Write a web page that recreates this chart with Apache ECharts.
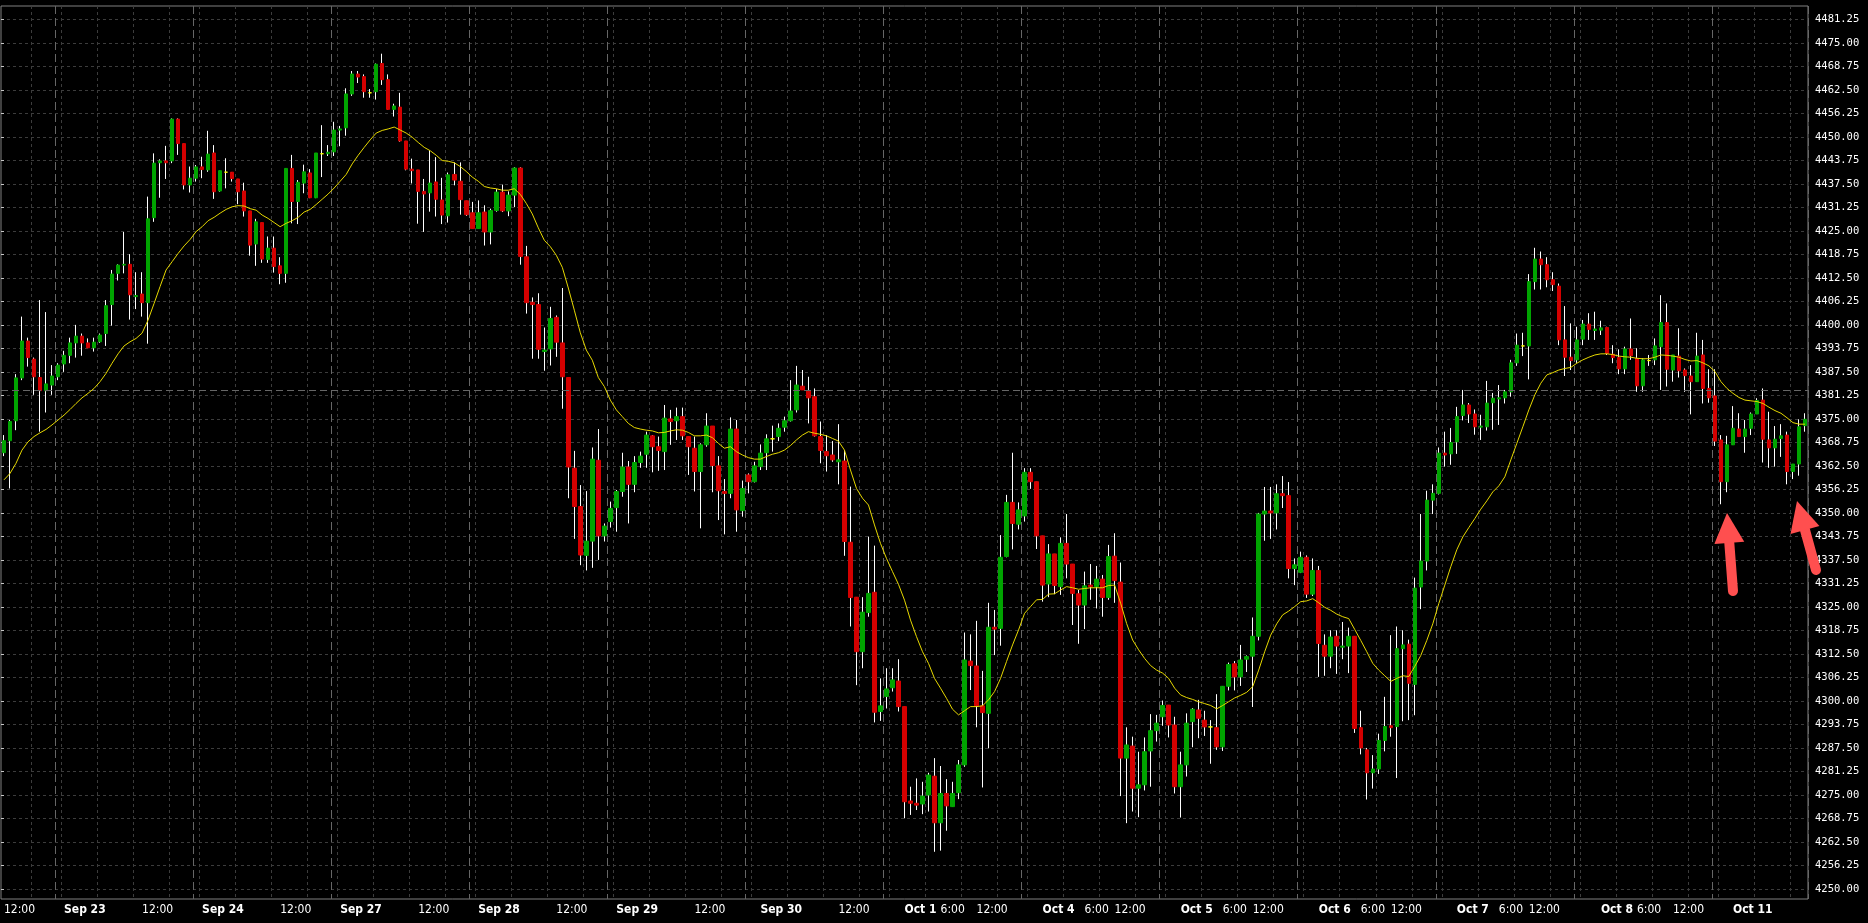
<!DOCTYPE html>
<html><head><meta charset="utf-8">
<script src="https://cdn.jsdelivr.net/npm/echarts@6/dist/echarts.min.js"></script>
<style>html,body{margin:0;padding:0;background:#000;}#c{width:1868px;height:923px;}</style>
</head><body><div id="c"></div>
<script>
// ---- hourly bars (index 0..300) ----
const open = [
4366.0,4369.2,4374.5,4385.9,4395.7,4390.9,4386.0,4382.5,4384.0,4386.2,
4389.6,4391.9,4395.2,4397.0,4395.2,4393.9,4395.5,4397.7,4405.4,4413.7,
4415.9,4416.1,4407.5,4408.2,4405.9,4428.5,4443.1,4443.6,4443.6,4454.7,
4448.2,4437.2,4439.0,4442.0,4441.2,4445.7,4435.6,4440.6,4440.6,4438.8,
4435.6,4430.3,4421.5,4427.2,4417.4,4420.4,4415.7,4413.7,4441.6,4432.8,
4437.7,4440.4,4433.8,4445.5,4445.5,4446.0,4451.8,4452.4,4461.4,4466.7,
4466.0,4461.7,4462.0,4469.5,4465.2,4457.3,4457.9,4448.9,4441.4,4441.2,
4435.5,4435.1,4438.0,4433.2,4429.0,4440.0,4438.2,4433.0,4429.8,4425.6,
4430.0,4424.7,4430.4,4435.3,4430.3,4434.5,4441.7,4418.1,4406.0,4405.4,
4392.9,4393.6,4402.0,4395.2,4386.0,4361.9,4351.7,4338.7,4342.5,4364.0,
4343.9,4347.7,4351.4,4355.7,4362.2,4357.6,4363.4,4365.6,4370.5,4367.6,
4366.3,4375.0,4374.5,4375.6,4370.3,4367.2,4361.0,4368.1,4373.1,4362.5,
4355.7,4355.2,4372.3,4350.6,4360.1,4358.3,4362.3,4366.0,4369.7,4370.3,
4372.8,4374.5,4377.4,4383.7,4382.4,4380.9,4370.3,4366.3,4365.4,4363.6,
4363.8,4342.2,4327.6,4313.1,4323.5,4328.9,4297.2,4301.2,4303.5,4305.3,
4298.5,4273.4,4272.8,4272.6,4275.0,4280.0,4267.6,4275.4,4271.9,4275.6,
4283.0,4310.6,4309.3,4298.7,4296.7,4319.6,4319.3,4338.4,4352.8,4347.0,
4349.2,4360.8,4358.3,4343.9,4331.1,4339.1,4330.4,4341.9,4336.4,4328.5,
4325.5,4330.8,4330.4,4332.4,4327.5,4338.5,4331.6,4284.8,4288.0,4276.8,
4277.7,4286.7,4292.1,4295.8,4298.9,4293.6,4277.2,4283.0,4294.5,4297.6,
4294.9,4293.1,4292.9,4287.8,4303.9,4309.9,4306.4,4311.1,4311.9,4317.2,
4349.7,4350.5,4350.0,4355.1,4354.6,4335.2,4334.2,4338.2,4328.4,4334.7,
4314.8,4311.9,4317.2,4314.3,4314.6,4317.2,4292.9,4287.0,4280.9,4281.9,
4289.5,4293.4,4293.2,4313.9,4315.1,4304.4,4330.3,4337.2,4353.4,4355.2,
4365.9,4365.7,4368.9,4375.9,4378.7,4376.3,4372.8,4372.9,4379.3,4380.3,
4380.6,4382.2,4389.9,4394.4,4394.4,4411.5,4417.5,4416.0,4412.0,4410.3,
4396.0,4391.4,4390.7,4396.2,4400.2,4398.5,4398.6,4399.3,4392.2,4391.3,
4388.3,4393.6,4391.1,4383.8,4390.5,4390.7,4394.2,4400.6,4388.0,4391.7,
4388.0,4386.4,4384.9,4392.0,4383.1,4381.1,4369.4,4358.3,4368.1,4372.3,
4370.3,4372.5,4376.3,4380.0,4369.4,4367.3,4369.8,4370.7,4361.0,4363.0,
4373.2];
const high = [
4370.7,4374.7,4386.9,4402.2,4396.6,4391.3,4406.6,4403.4,4389.3,4389.8,
4393.1,4396.6,4400.0,4397.7,4396.4,4396.6,4397.7,4406.6,4414.6,4416.1,
4424.7,4418.8,4414.0,4414.0,4434.1,4445.6,4444.0,4447.6,4454.9,4454.9,
4448.2,4442.1,4442.5,4444.7,4451.6,4447.8,4441.0,4444.3,4440.6,4438.8,
4437.8,4430.3,4428.2,4427.2,4423.5,4423.5,4418.0,4441.6,4445.2,4438.5,
4442.6,4441.4,4445.7,4453.1,4447.8,4454.0,4452.9,4462.9,4467.5,4467.5,
4466.6,4462.7,4469.5,4472.1,4466.6,4458.8,4461.7,4448.9,4444.2,4441.2,
4438.8,4446.4,4444.6,4439.1,4440.5,4443.2,4443.2,4433.0,4432.7,4433.1,
4431.8,4430.9,4436.1,4437.3,4435.5,4441.9,4441.9,4421.0,4407.3,4408.4,
4399.3,4404.8,4402.5,4409.8,4386.0,4366.5,4357.4,4355.8,4367.4,4372.3,
4347.2,4353.0,4356.1,4366.0,4363.8,4365.1,4366.3,4371.6,4370.7,4370.3,
4378.7,4377.4,4378.0,4378.0,4370.3,4370.3,4368.5,4376.5,4373.1,4365.1,
4359.0,4375.4,4374.7,4358.6,4360.5,4363.6,4368.2,4370.9,4373.2,4373.8,
4375.6,4385.3,4389.1,4388.0,4386.2,4383.1,4374.3,4370.7,4369.1,4373.6,
4366.7,4357.0,4327.6,4327.6,4343.7,4341.3,4306.0,4308.7,4308.7,4311.1,
4298.5,4277.2,4279.4,4278.5,4280.9,4284.8,4282.7,4279.2,4278.5,4284.3,
4318.2,4317.7,4321.3,4308.0,4326.1,4324.2,4344.1,4354.8,4366.0,4352.8,
4361.9,4361.9,4358.3,4343.9,4341.7,4339.1,4343.5,4349.7,4336.4,4329.5,
4334.4,4336.4,4335.9,4333.5,4341.5,4344.6,4336.8,4293.0,4290.5,4286.5,
4290.3,4296.5,4296.3,4300.1,4298.9,4295.8,4286.5,4296.7,4298.1,4300.3,
4297.4,4294.9,4301.8,4303.9,4310.2,4310.6,4314.9,4312.1,4322.2,4350.0,
4356.9,4356.9,4357.6,4359.8,4358.2,4337.9,4339.7,4338.7,4337.9,4335.9,
4317.7,4318.8,4318.8,4321.0,4319.5,4317.2,4297.4,4287.5,4285.6,4291.3,
4301.1,4317.5,4319.8,4318.8,4316.3,4332.8,4349.7,4355.9,4357.6,4367.4,
4371.6,4372.6,4378.2,4382.7,4379.2,4377.5,4376.1,4385.1,4381.9,4384.0,
4382.7,4390.7,4397.7,4397.9,4413.5,4420.5,4419.5,4418.0,4414.0,4411.0,
4405.0,4400.4,4399.5,4401.3,4403.1,4403.5,4401.1,4399.5,4394.6,4393.5,
4394.2,4401.7,4393.8,4391.1,4392.0,4396.4,4407.9,4405.7,4392.0,4399.1,
4388.4,4389.3,4397.9,4396.0,4388.2,4388.2,4370.7,4370.5,4378.4,4376.5,
4374.7,4376.7,4380.5,4383.1,4376.9,4373.1,4373.6,4371.6,4363.0,4374.9,
4376.5];
const low = [
4365.1,4356.5,4372.0,4385.3,4388.9,4381.4,4371.6,4376.7,4381.4,4385.3,
4387.5,4389.8,4391.3,4391.8,4393.9,4392.9,4395.2,4394.4,4399.8,4411.8,
4413.7,4401.4,4404.2,4402.2,4395.0,4427.4,4433.8,4438.8,4443.0,4445.2,
4436.0,4435.2,4438.1,4439.0,4440.7,4433.5,4435.4,4436.3,4438.1,4432.1,
4428.8,4418.4,4415.7,4416.5,4416.5,4413.9,4410.8,4411.2,4427.0,4426.8,
4435.0,4433.7,4433.7,4439.3,4444.9,4444.9,4447.5,4450.3,4460.9,4464.3,
4460.4,4460.4,4459.9,4463.8,4457.2,4455.4,4448.7,4441.1,4437.6,4426.9,
4424.7,4430.1,4428.8,4426.8,4427.2,4437.1,4429.3,4429.0,4425.6,4425.6,
4421.1,4421.4,4430.1,4430.0,4428.9,4431.3,4416.0,4403.0,4391.0,4391.0,
4387.8,4389.2,4391.5,4377.7,4353.9,4343.1,4336.1,4334.7,4335.4,4337.5,
4342.4,4346.1,4345.0,4354.3,4347.2,4355.5,4362.0,4362.0,4360.8,4361.2,
4361.4,4368.1,4369.4,4369.4,4360.1,4355.7,4345.9,4367.6,4355.5,4348.1,
4344.3,4353.9,4345.0,4349.0,4355.2,4358.1,4361.4,4361.4,4366.3,4369.1,
4371.6,4374.3,4376.7,4382.7,4373.8,4370.3,4363.2,4361.0,4363.6,4357.6,
4338.6,4319.8,4304.2,4308.7,4322.4,4294.3,4294.7,4298.0,4302.5,4297.2,
4268.8,4269.7,4271.0,4269.9,4270.6,4259.9,4260.2,4265.5,4271.9,4273.9,
4282.5,4302.9,4293.0,4277.0,4287.4,4312.2,4314.7,4338.2,4340.3,4345.6,
4347.7,4356.4,4340.4,4326.4,4327.6,4328.4,4328.2,4332.6,4320.2,4315.2,
4319.1,4326.9,4324.6,4322.4,4326.9,4326.1,4274.7,4267.5,4270.6,4269.1,
4276.2,4277.2,4289.2,4293.4,4290.3,4275.4,4269.0,4279.9,4287.7,4290.1,
4290.7,4283.3,4287.0,4286.7,4302.8,4302.8,4304.0,4307.7,4298.4,4316.1,
4342.6,4343.1,4345.6,4351.3,4332.6,4330.8,4334.0,4327.4,4327.9,4306.4,
4306.7,4308.7,4307.2,4311.1,4307.4,4291.5,4285.8,4273.8,4276.7,4280.6,
4286.6,4290.5,4279.5,4294.6,4294.9,4296.2,4324.4,4334.7,4349.7,4354.9,
4362.3,4362.8,4365.7,4374.6,4373.9,4370.8,4369.4,4371.9,4372.1,4373.4,
4379.1,4380.9,4389.1,4391.7,4385.5,4409.4,4409.4,4410.0,4409.0,4394.6,
4386.4,4388.0,4389.9,4394.6,4396.0,4396.0,4397.3,4392.0,4389.8,4386.9,
4386.9,4390.7,4382.2,4382.2,4389.1,4389.3,4382.7,4383.6,4384.9,4386.0,
4382.2,4376.2,4384.9,4379.1,4379.3,4367.8,4352.3,4355.5,4368.1,4370.3,
4366.0,4370.7,4376.3,4363.4,4362.0,4362.3,4364.9,4357.6,4359.0,4359.9,
4371.6];
const close = [
4369.2,4374.3,4385.9,4395.7,4391.3,4386.2,4382.5,4384.3,4386.4,4389.3,
4391.9,4395.2,4397.0,4395.2,4393.9,4395.4,4397.3,4405.1,4413.5,4415.9,
4416.1,4408.0,4407.8,4405.9,4428.2,4443.0,4443.6,4443.1,4454.7,4448.2,
4437.2,4439.0,4442.0,4441.3,4445.4,4435.4,4441.0,4440.6,4438.9,4435.4,
4430.3,4421.2,4427.4,4417.5,4420.4,4415.5,4413.7,4441.6,4432.8,4437.9,
4440.7,4433.8,4445.7,4445.5,4445.9,4451.8,4452.1,4461.4,4466.7,4465.9,
4462.0,4461.7,4469.3,4465.2,4457.3,4458.2,4448.9,4441.4,4441.0,4435.5,
4434.8,4437.7,4433.4,4429.2,4439.9,4438.5,4433.3,4429.3,4425.6,4429.8,
4424.7,4430.4,4435.3,4430.3,4434.5,4441.7,4418.2,4405.9,4405.4,4393.5,
4393.3,4401.7,4395.4,4386.2,4362.2,4351.7,4338.8,4342.5,4364.3,4343.9,
4346.5,4351.2,4355.7,4362.2,4357.6,4363.4,4365.1,4370.7,4367.6,4366.6,
4375.2,4374.3,4375.6,4370.5,4367.6,4361.0,4368.1,4373.1,4362.6,4355.9,
4355.2,4372.3,4350.8,4356.5,4358.3,4362.5,4365.9,4369.7,4369.7,4372.5,
4374.5,4377.1,4384.0,4382.7,4380.6,4370.5,4366.6,4365.2,4364.1,4364.1,
4342.4,4327.5,4313.1,4323.6,4328.6,4297.0,4298.7,4303.2,4305.6,4298.5,
4273.2,4272.8,4272.3,4274.7,4280.3,4267.6,4275.4,4272.1,4275.4,4283.0,
4310.9,4309.4,4298.7,4296.9,4319.6,4319.1,4338.2,4352.8,4347.2,4350.8,
4360.8,4358.3,4343.9,4330.8,4339.1,4330.7,4341.9,4336.4,4328.6,4325.5,
4330.6,4330.4,4332.4,4327.5,4338.4,4332.0,4284.8,4288.3,4276.8,4277.7,
4286.5,4292.1,4294.1,4298.8,4293.6,4277.2,4283.0,4294.1,4297.8,4295.4,
4293.1,4293.1,4287.8,4303.9,4309.7,4306.4,4310.9,4311.8,4317.2,4349.7,
4350.5,4350.0,4355.1,4354.6,4335.2,4336.2,4338.2,4328.4,4334.7,4315.3,
4311.9,4317.0,4314.6,4314.6,4317.2,4292.7,4287.5,4280.9,4281.9,4289.5,
4293.2,4292.9,4313.9,4314.9,4304.7,4330.0,4337.2,4353.4,4355.2,4365.9,
4365.4,4368.7,4375.6,4378.7,4376.3,4372.9,4373.1,4379.2,4380.5,4380.6,
4382.2,4389.9,4394.6,4394.4,4411.5,4417.5,4416.0,4412.0,4410.7,4396.0,
4391.4,4390.5,4396.0,4400.2,4398.8,4398.9,4399.2,4392.4,4391.3,4388.3,
4393.6,4391.8,4383.8,4390.7,4390.5,4394.4,4400.6,4388.2,4392.0,4387.8,
4386.5,4384.9,4391.7,4383.1,4380.6,4369.1,4358.3,4368.1,4372.5,4370.3,
4372.3,4376.3,4379.9,4369.6,4367.3,4369.6,4370.5,4361.0,4363.0,4372.9,
4374.9];
// moving average (yellow line), read per bar
const ma = [
4358.8,4360.5,4363.2,4366.7,4368.9,4370.3,4371.3,4372.2,4373.4,4374.7,
4376.0,4377.5,4379.1,4380.6,4381.8,4383.1,4384.9,4387.1,4389.8,4392.3,
4394.4,4395.5,4396.4,4397.8,4401.3,4405.7,4410.2,4414.6,4416.8,4419.0,
4421.0,4422.7,4424.8,4426.1,4427.7,4428.6,4429.7,4430.7,4431.4,4431.7,
4431.6,4430.9,4430.5,4429.2,4428.3,4427.2,4426.1,4427.0,4427.7,4428.6,
4430.0,4430.7,4432.0,4433.4,4434.8,4436.4,4438.2,4440.0,4442.8,4445.1,
4447.2,4449.2,4451.0,4451.7,4452.1,4452.6,4451.8,4451.0,4449.9,4448.5,
4447.2,4446.3,4445.1,4443.7,4443.5,4443.1,4442.1,4440.8,4439.3,4438.2,
4436.8,4436.4,4436.2,4435.8,4435.8,4436.2,4434.7,4432.3,4429.5,4425.8,
4422.5,4420.8,4418.5,4415.3,4409.8,4403.9,4397.9,4393.3,4390.6,4386.0,
4383.6,4380.0,4377.4,4375.6,4373.8,4372.7,4372.3,4372.0,4371.8,4371.3,
4371.4,4371.8,4372.1,4372.0,4371.4,4370.5,4370.5,4370.7,4370.0,4368.5,
4367.2,4367.6,4366.3,4365.4,4364.7,4364.3,4364.3,4365.0,4365.6,4366.0,
4366.7,4367.9,4369.4,4370.7,4371.6,4371.2,4370.9,4370.5,4369.8,4369.1,
4366.7,4361.4,4356.5,4353.9,4352.1,4346.8,4341.9,4337.9,4334.4,4331.0,
4326.8,4321.5,4317.1,4313.1,4310.0,4306.0,4303.4,4300.7,4297.8,4296.3,
4297.4,4298.5,4298.5,4298.7,4300.3,4302.5,4306.0,4310.5,4314.9,4318.9,
4323.3,4325.1,4326.9,4327.0,4328.4,4328.5,4329.5,4330.4,4330.1,4329.7,
4329.9,4330.1,4330.1,4330.1,4330.7,4330.8,4326.0,4320.6,4316.2,4313.6,
4311.3,4309.4,4308.2,4307.4,4306.0,4303.4,4301.6,4300.9,4300.4,4299.8,
4299.3,4298.8,4297.9,4298.8,4299.8,4300.8,4301.5,4302.3,4303.8,4308.2,
4313.1,4317.5,4320.5,4322.9,4323.9,4325.1,4326.4,4326.6,4327.2,4326.1,
4324.9,4324.1,4323.1,4322.4,4321.9,4319.0,4316.1,4313.1,4310.0,4308.2,
4306.7,4305.2,4306.0,4306.7,4306.5,4309.2,4312.1,4316.1,4320.5,4325.9,
4330.8,4335.7,4340.2,4343.6,4346.1,4348.5,4351.0,4353.2,4355.6,4357.2,
4359.6,4364.1,4368.5,4372.9,4377.4,4381.4,4384.5,4386.7,4387.3,4388.0,
4388.4,4388.7,4389.8,4390.7,4391.4,4392.0,4392.3,4392.3,4392.1,4391.7,
4391.5,4391.4,4391.1,4391.0,4391.0,4391.4,4392.0,4391.9,4391.7,4391.4,
4390.8,4390.4,4390.5,4389.9,4389.1,4387.6,4384.9,4383.1,4381.8,4380.7,
4380.0,4379.8,4379.6,4379.1,4378.1,4377.2,4376.5,4375.3,4374.0,4373.6,
4373.6];

// ---- time scale labels (bar index where each label starts) ----
const xLabelIdx  = [0,10,23,33,46,56,69,79,92,102,115,126,139,150,156,162,173,180,185,196,203,208,219,226,231,242,249,254,266,272,278,288];
const xLabelText = ['12:00','Sep 23','12:00','Sep 24','12:00','Sep 27','12:00','Sep 28','12:00','Sep 29','12:00','Sep 30','12:00','Oct 1','6:00','12:00','Oct 4','6:00','12:00','Oct 5','6:00','12:00','Oct 6','6:00','12:00','Oct 7','6:00','12:00','Oct 8','6:00','12:00','Oct 11'];
// first bar of each trading day (dashed period separators)
const daySepIdx = [9,32,55,78,101,124,147,170,193,216,239,262,285];
// 6-hour grid lines (bar index at whose left edge the dotted line sits)
const hourGridIdx = [5,10,16,22,28,33,39,45,51,56,62,68,74,79,85,91,97,102,108,114,120,125,131,137,143,148,154,160,166,171,177,183,189,194,200,206,212,217,223,229,235,240,246,252,258,263,269,275,281,286,292,298];
// price scale
const yTickMin = 4250, yTickMax = 4481.25, yTickStep = 6.25;
const hLinePrice = 4382.5;

// ---- layout ----
const plotTop = 6, plotBottomPx = 899, tickTopPx = 19.3, tickBottomPx = 889, H = 923;
const pxPerUnit = (tickBottomPx - tickTopPx) / (yTickMax - yTickMin);
const dataMin = yTickMin - (plotBottomPx - tickBottomPx) / pxPerUnit;
const dataMax = yTickMax + (tickTopPx - plotTop) / pxPerUnit;

const GREEN = '#00a400', RED = '#d40000', DOJI = '#ffff00', WICK = '#ffffff';
const XFONT = '"DejaVu Sans Condensed", "DejaVu Sans", sans-serif';
const cats = open.map((_, i) => String(i));
const labelMap = {}; xLabelIdx.forEach((k, j) => labelMap[k] = xLabelText[j]);
const sepSet = new Set(daySepIdx), gridSet = new Set(hourGridIdx);

const wickData = open.map((o, i) => [o, close[i], low[i], high[i]]);
const bodyData = open.map((o, i) => {
  const c = close[i];
  const v = [o, c, Math.min(o, c), Math.max(o, c)];
  if (o === c) return { value: v, itemStyle: { color: DOJI, color0: DOJI, borderColor: DOJI, borderColor0: DOJI } };
  return v;
});

const chart = echarts.init(document.getElementById('c'), null, { renderer: 'canvas' });
const hiddenCat = (extra) => Object.assign({
  type: 'category', gridIndex: 0, data: cats, boundaryGap: true,
  axisLine: { show: false }, axisTick: { show: false }, axisLabel: { show: false }
}, extra);

const ARROW = '#ff4f4f';
function arrow(tip, tail) {
  const dx = tip[0] - tail[0], dy = tip[1] - tail[1];
  const len = Math.hypot(dx, dy), ux = dx / len, uy = dy / len;
  const hl = 30, hw = 15;
  const bx = tip[0] - ux * hl, by = tip[1] - uy * hl;
  const px = -uy * hw, py = ux * hw;
  return [
    { type: 'line', z: 100, shape: { x1: tail[0], y1: tail[1], x2: bx, y2: by }, style: { stroke: ARROW, lineWidth: 10, lineCap: 'round' } },
    { type: 'polygon', z: 100, shape: { points: [tip, [bx + px, by + py], [bx - px, by - py]] }, style: { fill: ARROW } }
  ];
}

chart.setOption({
  animation: false,
  backgroundColor: '#000000',
  grid: [
    { left: 1, right: 60, top: plotTop, bottom: H - plotBottomPx, show: true, borderColor: '#808080', borderWidth: 1 },
    { left: 1, right: 60, top: tickTopPx, bottom: H - tickBottomPx }
  ],
  xAxis: [
    hiddenCat({
      axisLabel: {
        show: true, align: 'left', margin: 5, color: '#ffffff', fontFamily: XFONT, fontSize: 12,
        interval: (i) => labelMap[i] !== undefined,
        formatter: (v, i) => { const t = labelMap[i] || ''; return /^\d/.test(t) ? t : '{b|' + t + '}'; },
        rich: { b: { fontWeight: 'bold', fontFamily: XFONT, fontSize: 12, color: '#ffffff' } }
      },
      splitLine: { show: false }
    }),
    hiddenCat({ splitLine: { show: true, interval: (i) => gridSet.has(i), lineStyle: { color: '#3c3c3c', type: [3, 3], width: 1 } } }),
    hiddenCat({ splitLine: { show: true, interval: (i) => sepSet.has(i), lineStyle: { color: '#666666', type: [8, 4], width: 1 } } }),
    { type: 'value', gridIndex: 1, show: false, min: 0, max: 1 }
  ],
  yAxis: [
    { type: 'value', gridIndex: 0, min: dataMin, max: dataMax, show: false },
    {
      type: 'value', gridIndex: 1, position: 'right', min: yTickMin, max: yTickMax, interval: yTickStep,
      axisLine: { show: false },
      axisTick: { show: true, length: 3, lineStyle: { color: '#c8c8c8' } },
      axisLabel: { color: '#ffffff', fontFamily: '"DejaVu Sans Mono", monospace', fontSize: 10.5, margin: 7, formatter: (v) => v.toFixed(2) },
      splitLine: { show: true, lineStyle: { color: '#3c3c3c', type: [3, 3], width: 1 } }
    }
  ],
  series: [
    {
      type: 'candlestick', xAxisIndex: 0, yAxisIndex: 0, data: wickData, barWidth: 1,
      itemStyle: { color: WICK, color0: WICK, borderColor: WICK, borderColor0: WICK, borderWidth: 1 },
      markLine: {
        silent: true, symbol: ['none', 'none'], label: { show: false },
        lineStyle: { color: '#666666', type: [7, 4], width: 1 },
        data: [{ yAxis: hLinePrice }]
      }
    },
    {
      type: 'candlestick', xAxisIndex: 0, yAxisIndex: 0, data: bodyData, barWidth: 4,
      itemStyle: { color: GREEN, color0: RED, borderColor: GREEN, borderColor0: RED, borderWidth: 1 }
    },
    {
      type: 'line', xAxisIndex: 0, yAxisIndex: 0, data: ma, symbol: 'none', showSymbol: false,
      lineStyle: { color: '#e6d800', width: 1 }, z: 5
    }
  ],
  graphic: [].concat(arrow([1727, 513], [1733, 591]), arrow([1797, 501], [1816, 570]))
});
</script>
</body></html>
